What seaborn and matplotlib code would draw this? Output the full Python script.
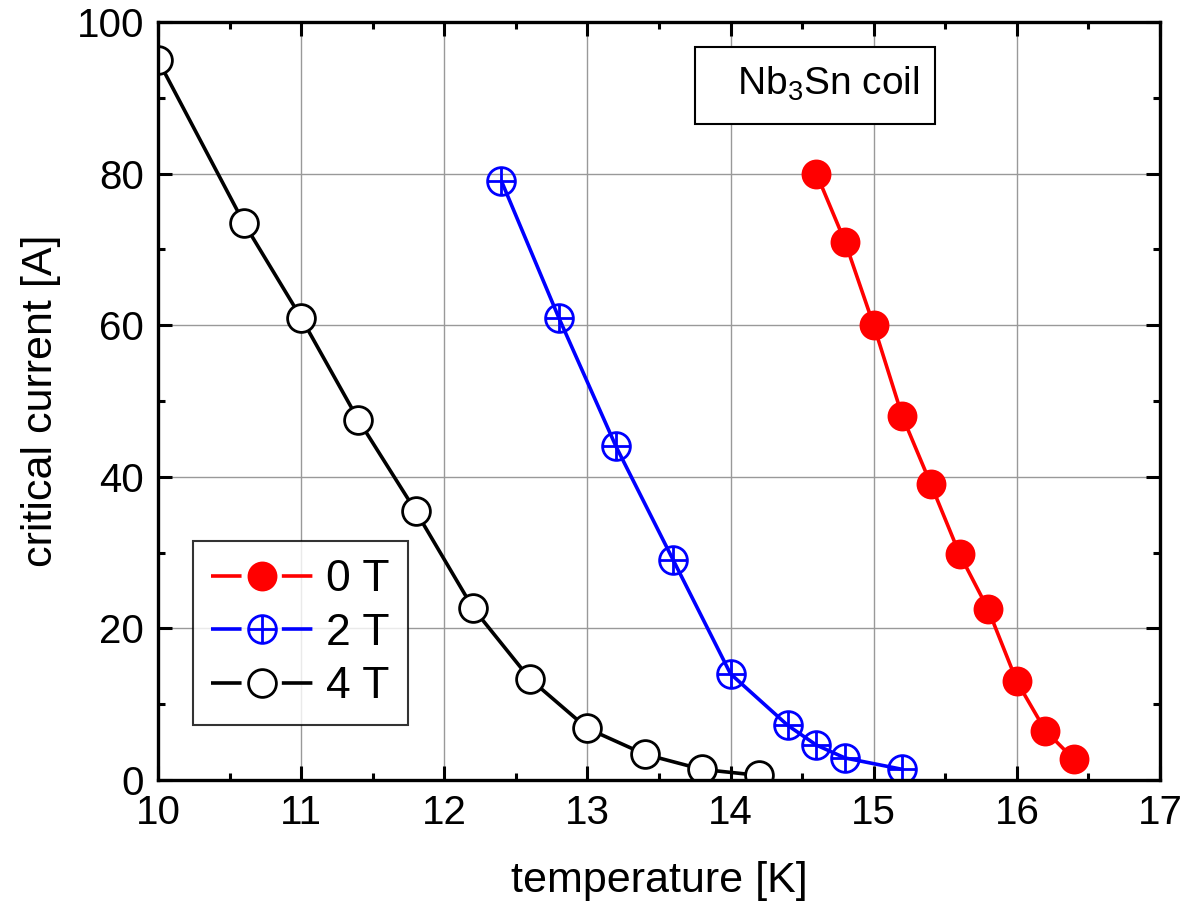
import numpy as np
import pandas as pd
import matplotlib
matplotlib.use('Agg')
import matplotlib.pyplot as plt
import seaborn as sns
from matplotlib.path import Path
from matplotlib.patches import Rectangle
from matplotlib.lines import Line2D
from matplotlib.legend_handler import HandlerTuple
from matplotlib.ticker import MultipleLocator

# dados
temp_0T = [14.6, 14.8, 15.0, 15.2, 15.4, 15.6, 15.8, 16.0, 16.2, 16.4]
ic_0T = [80, 71, 60, 48, 39, 29.8, 22.5, 13, 6.5, 2.7]

temp_2T = [12.4, 12.8, 13.2, 13.6, 14.0, 14.4, 14.6, 14.8, 15.2]
ic_2T = [79, 61, 44, 29, 14, 7.2, 4.6, 2.9, 1.4]

temp_4T = [10.0, 10.6, 11.0, 11.4, 11.8, 12.2, 12.6, 13.0, 13.4, 13.8, 14.2]
ic_4T = [95, 73.5, 61, 47.5, 35.5, 22.7, 13.3, 6.8, 3.4, 1.4, 0.6]

labels = ['0 T', '2 T', '4 T']

sns.set_style('ticks')
plt.rcParams['font.family'] = ['Liberation Sans', 'DejaVu Sans']
plt.rcParams['mathtext.fontset'] = 'custom'
plt.rcParams['mathtext.rm'] = 'Liberation Sans'
plt.rcParams['mathtext.it'] = 'Liberation Sans'
for k in ['text.color', 'axes.labelcolor', 'xtick.color', 'ytick.color', 'axes.edgecolor']:
    plt.rcParams[k] = 'black'
plt.rcParams['lines.scale_dashes'] = False

# marcador círculo com cruz
circ = Path.unit_circle()
cruz = Path([(-1, 0), (1, 0), (0, -1), (0, 1)],
            [Path.MOVETO, Path.LINETO, Path.MOVETO, Path.LINETO])
oplus = Path.make_compound_path(circ, cruz)

fig = plt.figure(figsize=(11.84, 9.10), dpi=100)
ax = fig.add_axes([0.1334, 0.1429, 0.8463, 0.8329])

estilos = [
    (temp_0T, ic_0T, dict(color='#ff0000', marker='o', mfc='#ff0000', mec='#ff0000', mew=1.5)),
    (temp_2T, ic_2T, dict(color='#0000ff', marker=oplus, mfc='none', mec='#0000ff', mew=2.0)),
    (temp_4T, ic_4T, dict(color='black', marker='o', mfc='white', mec='black', mew=2.0)),
]

handles = []
for (t, ic, st), lab in zip(estilos, labels):
    df = pd.DataFrame({'T': t, 'Ic': ic})
    sns.lineplot(data=df, x='T', y='Ic', ax=ax, color=st['color'], lw=2.6,
                 marker=st['marker'], markersize=20, markerfacecolor=st['mfc'],
                 markeredgecolor=st['mec'], markeredgewidth=st['mew'], zorder=3)
    # legenda: linha com intervalo em volta do marcador
    linha = Line2D([], [], color=st['color'], lw=2.6, dashes=(22, 29, 22, 200))
    marca = Line2D([], [], ls='none', marker=st['marker'], markersize=20,
                   markerfacecolor=st['mfc'], markeredgecolor=st['mec'],
                   markeredgewidth=st['mew'])
    handles.append((linha, marca))

ax.set_xlim(10, 17)
ax.set_ylim(0, 100)
ax.xaxis.set_major_locator(MultipleLocator(1))
ax.xaxis.set_minor_locator(MultipleLocator(0.5))
ax.yaxis.set_major_locator(MultipleLocator(20))
ax.yaxis.set_minor_locator(MultipleLocator(10))
ax.grid(True, which='major', color='#999999', lw=1.0, zorder=0)
ax.set_axisbelow(True)

ax.tick_params(which='both', direction='in', top=True, right=True, width=2.2,
               labelsize=29, pad=10)
ax.tick_params(which='major', length=10)
ax.tick_params(which='minor', length=5)
for s in ax.spines.values():
    s.set_linewidth(2.4)
    s.set_zorder(5)

ax.set_xlabel('temperature [K]', fontsize=31, labelpad=21)
ax.set_ylabel('critical current [A]', fontsize=31, labelpad=11)

leg = ax.legend(handles, labels, handler_map={tuple: HandlerTuple(ndivide=1)},
                loc='lower left', bbox_to_anchor=(0.035, 0.0726),
                fontsize=32, frameon=True, fancybox=False, edgecolor='black',
                handlelength=2.3, handletextpad=0.3, borderpad=0.4,
                labelspacing=0.28, borderaxespad=0)
leg.get_frame().set_linewidth(1.5)

ax.add_patch(Rectangle((0.536, 0.8654), 0.2395, 0.1016, transform=ax.transAxes,
                       facecolor='white', edgecolor='black', lw=1.5, zorder=6))
ax.text(0.578, 0.918, 'Nb$_3$Sn coil', transform=ax.transAxes, fontsize=28,
        va='center', ha='left', zorder=7)

fig.savefig('out.png', dpi=100)
